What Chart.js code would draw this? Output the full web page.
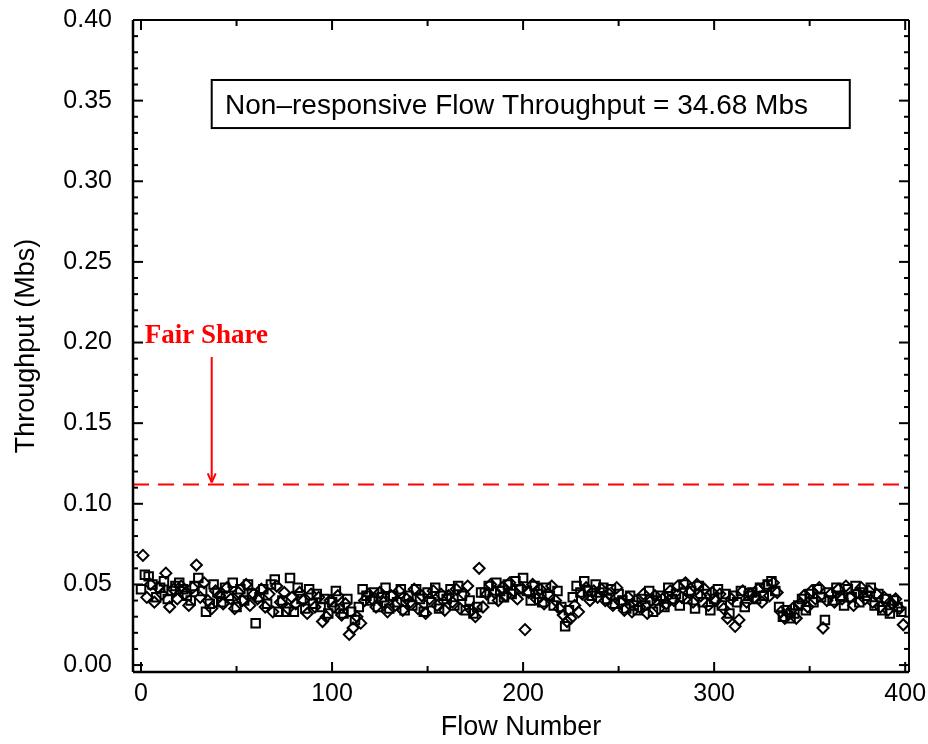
<!DOCTYPE html>
<html>
<head>
<meta charset="utf-8">
<script src="https://cdn.jsdelivr.net/npm/chart.js@4.4.1/dist/chart.umd.min.js"></script>
<style>
  html, body { margin: 0; padding: 0; background: #fff; }
</style>
</head>
<body>
<canvas id="chart" width="928" height="744"></canvas>
<script>
// Throughput of the squares (even flow numbers 0, 2, 4, ... 398)
const squareThroughput = [
  0.047, 0.056, 0.055, 0.050, 0.042, 0.048, 0.052, 0.041, 0.046, 0.049,
  0.051, 0.047, 0.043, 0.040, 0.049, 0.054, 0.046, 0.033, 0.038, 0.050,
  0.045, 0.039, 0.048, 0.043, 0.051, 0.036, 0.047, 0.040, 0.050, 0.044,
  0.026, 0.042, 0.047, 0.038, 0.050, 0.053, 0.033, 0.040, 0.033, 0.054,
  0.033, 0.048, 0.041, 0.035, 0.047, 0.038, 0.044, 0.036, 0.041, 0.032,
  0.039, 0.046, 0.035, 0.032, 0.041, 0.033, 0.028, 0.036, 0.047, 0.043,
  0.040, 0.045, 0.036, 0.042, 0.048, 0.035, 0.043, 0.039, 0.047, 0.034,
  0.043, 0.037, 0.047, 0.041, 0.033, 0.045, 0.039, 0.048, 0.035, 0.043,
  0.041, 0.047, 0.037, 0.049, 0.043, 0.034, 0.040, 0.032, 0.036, 0.045,
  0.045, 0.049, 0.041, 0.051, 0.046, 0.042, 0.050, 0.044, 0.052, 0.047,
  0.054, 0.046, 0.040, 0.049, 0.044, 0.039, 0.048, 0.043, 0.037, 0.046,
  0.036, 0.024, 0.034, 0.042, 0.049, 0.045, 0.052, 0.046, 0.043, 0.050,
  0.045, 0.048, 0.041, 0.047, 0.038, 0.044, 0.040, 0.035, 0.043, 0.037,
  0.034, 0.041, 0.037, 0.046, 0.033, 0.040, 0.043, 0.036, 0.048, 0.041,
  0.044, 0.037, 0.050, 0.041, 0.046, 0.035, 0.049, 0.039, 0.044, 0.034,
  0.041, 0.047, 0.037, 0.044, 0.032, 0.043, 0.039, 0.046, 0.036, 0.043,
  0.045, 0.041, 0.048, 0.043, 0.050, 0.052, 0.046, 0.036, 0.030, 0.034,
  0.029, 0.032, 0.037, 0.041, 0.034, 0.044, 0.039, 0.047, 0.042, 0.028,
  0.045, 0.040, 0.048, 0.043, 0.037, 0.047, 0.042, 0.049, 0.039, 0.045,
  0.043, 0.048, 0.037, 0.044, 0.034, 0.041, 0.032, 0.040, 0.036, 0.033,
];

// Throughput of the diamonds (odd flow numbers 1, 3, 5, ... 399)
const diamondThroughput = [
  0.068, 0.042, 0.050, 0.039, 0.048, 0.044, 0.057, 0.036, 0.047, 0.041,
  0.049, 0.044, 0.037, 0.048, 0.062, 0.042, 0.051, 0.040, 0.035, 0.046,
  0.043, 0.038, 0.048, 0.041, 0.035, 0.045, 0.040, 0.050, 0.037, 0.044,
  0.041, 0.047, 0.036, 0.044, 0.033, 0.049, 0.039, 0.045, 0.035, 0.042,
  0.038, 0.045, 0.040, 0.032, 0.044, 0.036, 0.042, 0.027, 0.030, 0.040,
  0.036, 0.043, 0.031, 0.038, 0.019, 0.023, 0.030, 0.026, 0.040, 0.044,
  0.041, 0.036, 0.045, 0.039, 0.033, 0.043, 0.037, 0.046, 0.034, 0.041,
  0.039, 0.047, 0.035, 0.043, 0.032, 0.041, 0.046, 0.037, 0.044, 0.034,
  0.043, 0.039, 0.047, 0.035, 0.044, 0.049, 0.034, 0.030, 0.060, 0.036,
  0.044, 0.050, 0.045, 0.040, 0.048, 0.043, 0.051, 0.046, 0.041, 0.048,
  0.022, 0.045, 0.050, 0.041, 0.047, 0.038, 0.044, 0.049, 0.040, 0.035,
  0.031, 0.027, 0.029, 0.037, 0.033, 0.044, 0.048, 0.040, 0.046, 0.042,
  0.047, 0.040, 0.044, 0.037, 0.048, 0.039, 0.034, 0.042, 0.033, 0.040,
  0.036, 0.044, 0.032, 0.040, 0.043, 0.035, 0.041, 0.038, 0.046, 0.040,
  0.049, 0.042, 0.051, 0.045, 0.039, 0.050, 0.043, 0.047, 0.037, 0.045,
  0.040, 0.044, 0.035, 0.029, 0.041, 0.024, 0.028, 0.046, 0.039, 0.044,
  0.042, 0.047, 0.039, 0.049, 0.043, 0.051, 0.045, 0.033, 0.029, 0.032,
  0.035, 0.029, 0.038, 0.043, 0.036, 0.046, 0.041, 0.048, 0.023, 0.040,
  0.044, 0.039, 0.047, 0.041, 0.049, 0.042, 0.037, 0.045, 0.048, 0.041,
  0.046, 0.039, 0.044, 0.036, 0.042, 0.034, 0.038, 0.041, 0.035, 0.025,
];

const xTicks = [0, 100, 200, 300, 400];
const yTicks = [0, 0.05, 0.1, 0.15, 0.2, 0.25, 0.3, 0.35, 0.4];
const xMinorTicks = [50, 150, 250, 350];
const yMinorTicks = [];
for (let v = 1; v < 40; v++) if (v % 5 !== 0) yMinorTicks.push(v / 100);

const fairShare = 0.112;
const fairShareLabel = "Fair Share";
const boxText = "Non\u2013responsive Flow Throughput = 34.68 Mbs";

const canvas = document.querySelector("#chart");

// Frame, inward ticks, note box and the fair share arrow
const decorations = {
  id: "decorations",
  afterDatasetsDraw(chart) {
    const { ctx, chartArea } = chart;
    const x = chart.scales.x;
    const y = chart.scales.y;
    const { left, right, top, bottom } = chartArea;

    ctx.save();
    ctx.strokeStyle = "#000";

    // ticks on all four sides
    ctx.lineWidth = 2;
    const tick = (x1, y1, x2, y2) => {
      ctx.beginPath();
      ctx.moveTo(x1, y1);
      ctx.lineTo(x2, y2);
      ctx.stroke();
    };
    xTicks.forEach((v) => {
      const px = x.getPixelForValue(v);
      tick(px, bottom, px, bottom - 10);
      tick(px, top, px, top + 10);
    });
    xMinorTicks.forEach((v) => {
      const px = x.getPixelForValue(v);
      tick(px, bottom, px, bottom - 6);
      tick(px, top, px, top + 6);
    });
    yTicks.forEach((v) => {
      const py = y.getPixelForValue(v);
      tick(left, py, left + 10, py);
      tick(right, py, right - 10, py);
    });
    yMinorTicks.forEach((v) => {
      const py = y.getPixelForValue(v);
      tick(left, py, left + 5, py);
      tick(right, py, right - 5, py);
    });

    // frame
    ctx.lineWidth = 2.5;
    tick(left, top, left, bottom);
    tick(left, bottom, right, bottom);
    ctx.lineWidth = 2;
    tick(left, top, right, top);
    tick(right, top, right, bottom);

    // note box
    const bx1 = x.getPixelForValue(37);
    const bx2 = x.getPixelForValue(371);
    const by1 = y.getPixelForValue(0.3628);
    const by2 = y.getPixelForValue(0.333);
    ctx.lineWidth = 2;
    ctx.fillStyle = "#fff";
    ctx.fillRect(bx1, by1, bx2 - bx1, by2 - by1);
    ctx.strokeRect(bx1, by1, bx2 - bx1, by2 - by1);
    ctx.fillStyle = "#000";
    ctx.font = '28px "Liberation Sans", Arial, sans-serif';
    ctx.textAlign = "left";
    ctx.textBaseline = "middle";
    ctx.fillText(boxText, x.getPixelForValue(44), (by1 + by2) / 2 + 2);

    // fair share label and arrow
    ctx.fillStyle = "#ff0000";
    ctx.strokeStyle = "#ff0000";
    ctx.font = 'bold 27px "Liberation Serif", "Times New Roman", serif';
    ctx.textBaseline = "alphabetic";
    ctx.fillText(fairShareLabel, x.getPixelForValue(2), y.getPixelForValue(0.2));

    const ax = x.getPixelForValue(37);
    const ay1 = y.getPixelForValue(0.191);
    const ay2 = y.getPixelForValue(fairShare) - 2;
    ctx.lineWidth = 2;
    tick(ax, ay1, ax, ay2);
    tick(ax - 4, ay2 - 9, ax, ay2);
    tick(ax + 4, ay2 - 9, ax, ay2);
    ctx.restore();
  },
};

const markerStyle = {
  borderColor: "#000",
  backgroundColor: "rgba(0,0,0,0)",
  borderWidth: 2,
  pointHoverRadius: 6,
};

new Chart(canvas, {
  type: "scatter",
  data: {
    datasets: [
      {
        type: "line",
        label: "Fair Share",
        data: [
          { x: -4.2, y: fairShare },
          { x: 402, y: fairShare },
        ],
        borderColor: "#ff0000",
        borderWidth: 2,
        borderDash: [16, 9],
        pointRadius: 0,
        fill: false,
      },
      {
        label: "Squares",
        data: squareThroughput.map((v, i) => ({ x: i * 2, y: v })),
        pointStyle: "rect",
        pointRadius: 6,
        ...markerStyle,
      },
      {
        label: "Diamonds",
        data: diamondThroughput.map((v, i) => ({ x: i * 2 + 1, y: v })),
        pointStyle: "rectRot",
        pointRadius: 5.5,
        ...markerStyle,
      },
    ],
  },
  options: {
    responsive: false,
    animation: false,
    events: [],
    layout: { padding: { left: 0, right: 19, top: 20, bottom: 0 } },
    plugins: {
      legend: { display: false },
      tooltip: { enabled: false },
    },
    scales: {
      x: {
        type: "linear",
        min: -4.2,
        max: 402,
        afterBuildTicks: (scale) => {
          scale.ticks = xTicks.map((v) => ({ value: v }));
        },
        afterFit: (scale) => {
          scale.height = 72;
          scale.paddingLeft = 0;
          scale.paddingRight = 0;
        },
        grid: { display: false, drawTicks: false },
        border: { display: false },
        ticks: {
          padding: 7,
          color: "#000",
          font: { family: "Liberation Sans", size: 25 },
          maxRotation: 0,
        },
        title: {
          display: true,
          text: "Flow Number",
          color: "#000",
          font: { family: "Liberation Sans", size: 27 },
          padding: { top: 0, bottom: 0 },
        },
      },
      y: {
        type: "linear",
        min: -0.0043,
        max: 0.4,
        afterBuildTicks: (scale) => {
          scale.ticks = yTicks.map((v) => ({ value: v }));
        },
        afterFit: (scale) => {
          scale.width = 133;
          scale.paddingTop = 0;
          scale.paddingBottom = 0;
        },
        grid: { display: false, drawTicks: false },
        border: { display: false },
        ticks: {
          padding: 21,
          color: "#000",
          font: { family: "Liberation Sans", size: 25 },
          callback: (v) => v.toFixed(2),
        },
        title: {
          display: true,
          text: "Throughput (Mbs)",
          color: "#000",
          font: { family: "Liberation Sans", size: 27 },
          padding: { top: 10, bottom: 0 },
        },
      },
    },
  },
  plugins: [decorations],
});
</script>
</body>
</html>
